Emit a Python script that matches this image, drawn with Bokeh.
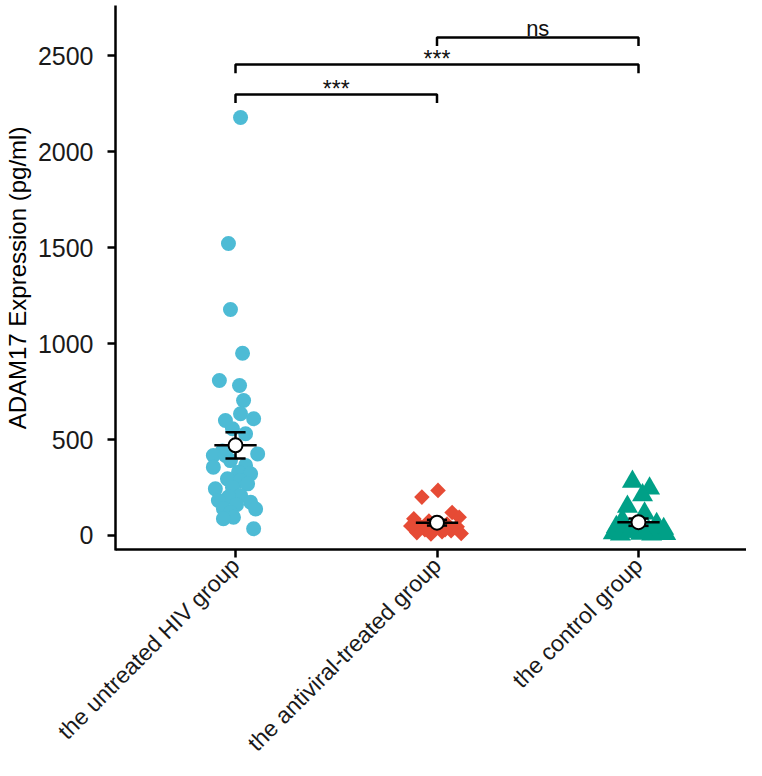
import math
import numpy as np
from bokeh.plotting import figure
from bokeh.models import Range1d, FixedTicker, CustomJSTickFormatter
from bokeh.embed import file_html
from bokeh.resources import INLINE
from bokeh.core.properties import value

# ---- data ----
categories = ["the untreated HIV group", "the antiviral-treated group", "the control group"]
category_pos = [1, 2, 3]

untreated = [2177, 1521, 1177, 949, 807, 781, 703, 634, 599, 608, 556, 530, 470, 440,
             417, 425, 417, 390, 356, 365, 330, 321, 295, 286, 269, 250, 243, 208,
             200, 182, 173, 160, 138, 139, 120, 95, 87, 35]
untreated_jitter = [0.025, -0.035, -0.025, 0.035, -0.08, 0.02, 0.04, 0.025, -0.05, 0.09,
                    -0.015, 0.05, 0.0, -0.065, -0.11, 0.11, -0.05, -0.025, -0.11, 0.05,
                    0.015, 0.075, -0.04, 0.025, 0.06, -0.015, -0.1, 0.025, -0.035, -0.085,
                    0.075, 0.005, 0.1, -0.06, -0.025, -0.01, -0.06, 0.09]

antiviral = [235, 200, 120, 95, 87, 75, 60, 55, 45, 40, 30, 25, 20, 15, 10, 8, 30, 50]
antiviral_jitter = [0.005, -0.075, 0.075, 0.11, -0.115, -0.04, 0.05, -0.09, 0.1, -0.015,
                    -0.06, 0.07, 0.025, -0.1, 0.12, -0.03, 0.04, -0.13]

control = [280, 245, 210, 150, 115, 80, 60, 45, 35, 30, 25, 20, 15, 12, 10, 8, 6, 5, 20, 15]
control_jitter = [-0.03, 0.055, 0.02, -0.055, 0.03, -0.08, 0.09, -0.11, 0.125, -0.02,
                  0.05, -0.07, 0.1, -0.125, 0.01, 0.135, -0.09, 0.065, -0.04, 0.025]

y_ticks = [0, 500, 1000, 1500, 2000, 2500]

comparisons = [(1, 2, "***"), (1, 3, "***"), (2, 3, "ns")]
bracket_levels = [2297, 2453, 2594]

colors = ["#4DBBD5", "#E64B35", "#00A087"]
markers = ["circle", "square", "triangle"]
sizes = [15, 11, 21]
angles = [0, math.pi / 4, 0]

FONT = "Liberation Sans"

# plot geometry (data units): the frame fills the canvas, axes sit at fixed locations
X0, X1 = -0.1663, 3.536
Y0, Y1 = -1171.9, 2786.5
X_AXIS_AT = -73.0        # y value of the x axis line
Y_AXIS_AT = 0.40447      # x value of the y axis line
Y_AXIS_TOP = 2760.4

p = figure(width=746, height=760,
           x_range=Range1d(X0, X1), y_range=Range1d(Y0, Y1),
           output_backend="svg", toolbar_location=None,
           min_border_left=0, min_border_right=0, min_border_top=0,
           min_border_bottom=0)
p.outline_line_color = None
p.xgrid.visible = False
p.ygrid.visible = False
p.background_fill_color = "white"
p.border_fill_color = "white"

groups = [(untreated, untreated_jitter), (antiviral, antiviral_jitter), (control, control_jitter)]
for i, (vals, jit) in enumerate(groups):
    xs = [category_pos[i] + j for j in jit]
    p.scatter(xs, vals, marker=markers[i], size=sizes[i], angle=angles[i],
              fill_color=colors[i], line_color=colors[i], line_width=0)

# mean +/- SEM
for i, (vals, jit) in enumerate(groups):
    arr = np.array(vals, dtype=float)
    m = arr.mean()
    sem = arr.std(ddof=1) / math.sqrt(len(arr))
    cx = category_pos[i]
    p.segment(x0=[cx], y0=[m - sem], x1=[cx], y1=[m + sem], line_color="black", line_width=2.5)
    p.segment(x0=[cx - 0.05, cx - 0.05], y0=[m - sem, m + sem],
              x1=[cx + 0.05, cx + 0.05], y1=[m - sem, m + sem],
              line_color="black", line_width=2.5)
    p.segment(x0=[cx - 0.105], y0=[m], x1=[cx + 0.105], y1=[m], line_color="black", line_width=2.5)
    p.scatter([cx], [m], marker="circle", size=14, fill_color="white", line_color="black",
              line_width=2)

# significance brackets
tick_len = 45
for (a, b, lab), lev in zip(comparisons, bracket_levels):
    p.line([a, a, b, b], [lev - tick_len, lev, lev, lev - tick_len],
           line_color="black", line_width=2.5)
    if lab == "ns":
        p.text([(a + b) / 2], [lev + 45], text=[lab], text_font=value(FONT),
               text_font_size="22px", text_align="center", text_baseline="alphabetic",
               text_color="#111111")
    else:
        p.text([(a + b) / 2], [lev + 30], text=[lab], text_font=value(FONT),
               text_font_size="23px", text_align="center", text_baseline="alphabetic",
               text_color="#111111")

# axes at fixed locations
p.xaxis.fixed_location = X_AXIS_AT
p.xaxis.bounds = (Y_AXIS_AT, X1)
p.xaxis.ticker = FixedTicker(ticks=category_pos)
p.xaxis.formatter = CustomJSTickFormatter(args=dict(labels=categories),
                                          code="return labels[Math.round(tick) - 1] || '';")
p.xaxis.major_label_orientation = math.pi / 4

p.yaxis.fixed_location = Y_AXIS_AT
p.yaxis.bounds = (X_AXIS_AT - 6.5, Y_AXIS_TOP)
p.yaxis.ticker = FixedTicker(ticks=y_ticks)
p.yaxis.axis_label = "ADAM17 Expression (pg/ml)"

for ax in (p.xaxis, p.yaxis):
    ax.axis_line_color = "black"
    ax.axis_line_width = 2.5
    ax.major_tick_line_color = "black"
    ax.major_tick_line_width = 2.5
    ax.major_tick_out = 8
    ax.major_tick_in = 0
    ax.minor_tick_line_color = None
    ax.major_label_text_font = FONT
    ax.major_label_text_color = "#1a1a1a"
    ax.axis_label_text_font = FONT
    ax.axis_label_text_font_style = "normal"
    ax.axis_label_text_color = "black"

p.xaxis.major_label_text_font_size = "23px"
p.xaxis.major_label_standoff = 4
p.yaxis.major_label_text_font_size = "25px"
p.yaxis.major_label_standoff = 14
p.yaxis.axis_label_text_font_size = "24px"
p.yaxis.axis_label_standoff = 4

with open("out.html", "w") as f:
    f.write(file_html(p, INLINE))
